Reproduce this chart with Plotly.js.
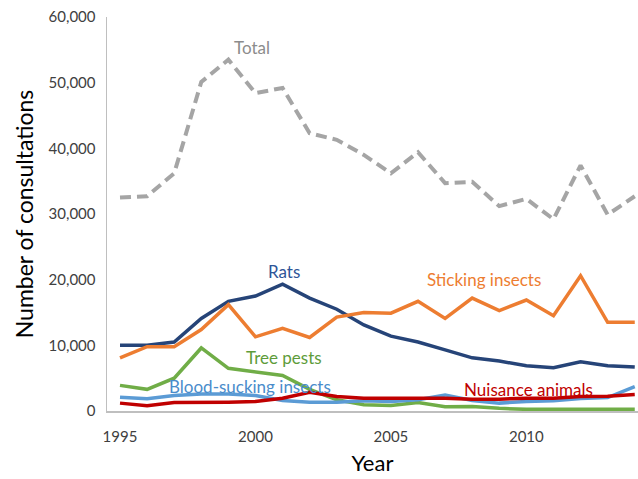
<!DOCTYPE html>
<html>
<head>
<meta charset="utf-8">
<script src="https://cdn.plot.ly/plotly-3.0.1.min.js"></script>
<style>html,body{margin:0;padding:0;background:#fff;}#chart{width:638px;height:479px;}</style>
</head>
<body>
<div id="chart"></div>
<script>
const years = [1995,1996,1997,1998,1999,2000,2001,2002,2003,2004,2005,2006,2007,2008,2009,2010,2011,2012,2013,2014];
const total = [32500,32700,36200,50100,53500,48400,49200,42300,41300,39000,36200,39400,34700,34900,31200,32300,29200,37400,29900,32700];
const rats = [10000,10000,10500,14100,16700,17500,19300,17200,15500,13100,11400,10500,9300,8100,7600,6900,6600,7500,6900,6700];
const sticking = [8100,9800,9800,12400,16200,11300,12600,11200,14300,15000,14900,16700,14100,17200,15300,16900,14500,20600,13500,13500];
const treePests = [3900,3300,5000,9600,6500,5900,5400,3300,1700,950,850,1300,650,700,400,250,250,300,250,250];
const bloodSucking = [2100,1850,2350,2600,2600,2350,1600,1350,1350,1550,1450,1700,2450,1600,1200,1450,1550,1900,2050,3700];
const nuisance = [1200,800,1300,1300,1350,1450,1950,2850,2200,1950,1950,1950,1950,1800,1800,1950,1950,2200,2250,2500];

const seriesNames = ["Total","Rats","Sticking insects","Tree pests","Blood-sucking insects","Nuisance animals"];
const seriesValues = [total, rats, sticking, treePests, bloodSucking, nuisance];
const lineColors = ["#A5A5A5","#264478","#ED7D31","#70AD47","#5B9BD5","#C00000"];
const labelColors = ["#8C8C8C","#2F5597","#ED7D31","#5E9C3A","#4A8CCB","#C00000"];

const traces = seriesNames.map((n,i)=>({
  type:'scatter', mode:'lines', name:n, x:years, y:seriesValues[i],
  line:{color:lineColors[i], width: i===0?4:3.5, dash: i===0?'11px,6px':'solid', shape:'linear'},
  hoverinfo:'skip'
}));

const labelPos = [[1999.89,55300],[2001.04,21200],[2008.43,20100],[2001.04,8200],[1999.78,3800],[2010.09,3350]];
const annotations = seriesNames.map((n,i)=>({
  x:labelPos[i][0], y:labelPos[i][1], xref:'x', yref:'y', text:n, showarrow:false,
  xanchor:'center', yanchor:'middle',
  font:{family:'Lato, "Open Sans", sans-serif', size:17, color:labelColors[i]}
}));

const layout = {
  width:638, height:479,
  margin:{l:107, r:0, t:17, b:68},
  paper_bgcolor:'#fff', plot_bgcolor:'#fff',
  showlegend:false,
  font:{family:'Lato, "Open Sans", sans-serif', color:'#595959'},
  xaxis:{
    range:[1994.52,2014.12], tick0:1995, dtick:5, showgrid:false, zeroline:false,
    showline:true, linecolor:'#BFBFBF', linewidth:1.5, ticks:'', ticklabelstandoff:11,
    tickfont:{size:15, color:'#404040'},
    title:{text:'Year', font:{size:22, color:'#000'}, standoff:12}
  },
  yaxis:{
    range:[0,60000], dtick:10000, tickformat:',', showgrid:false, zeroline:false,
    showline:true, linecolor:'#BFBFBF', linewidth:1.5, ticks:'', ticklabelstandoff:7,
    tickfont:{size:15, color:'#404040'},
    title:{text:'Number of consultations', font:{size:23, color:'#000'}, standoff:8}
  },
  annotations:annotations
};
Plotly.newPlot('chart', traces, layout, {staticPlot:true, displayModeBar:false});
</script>
</body>
</html>
